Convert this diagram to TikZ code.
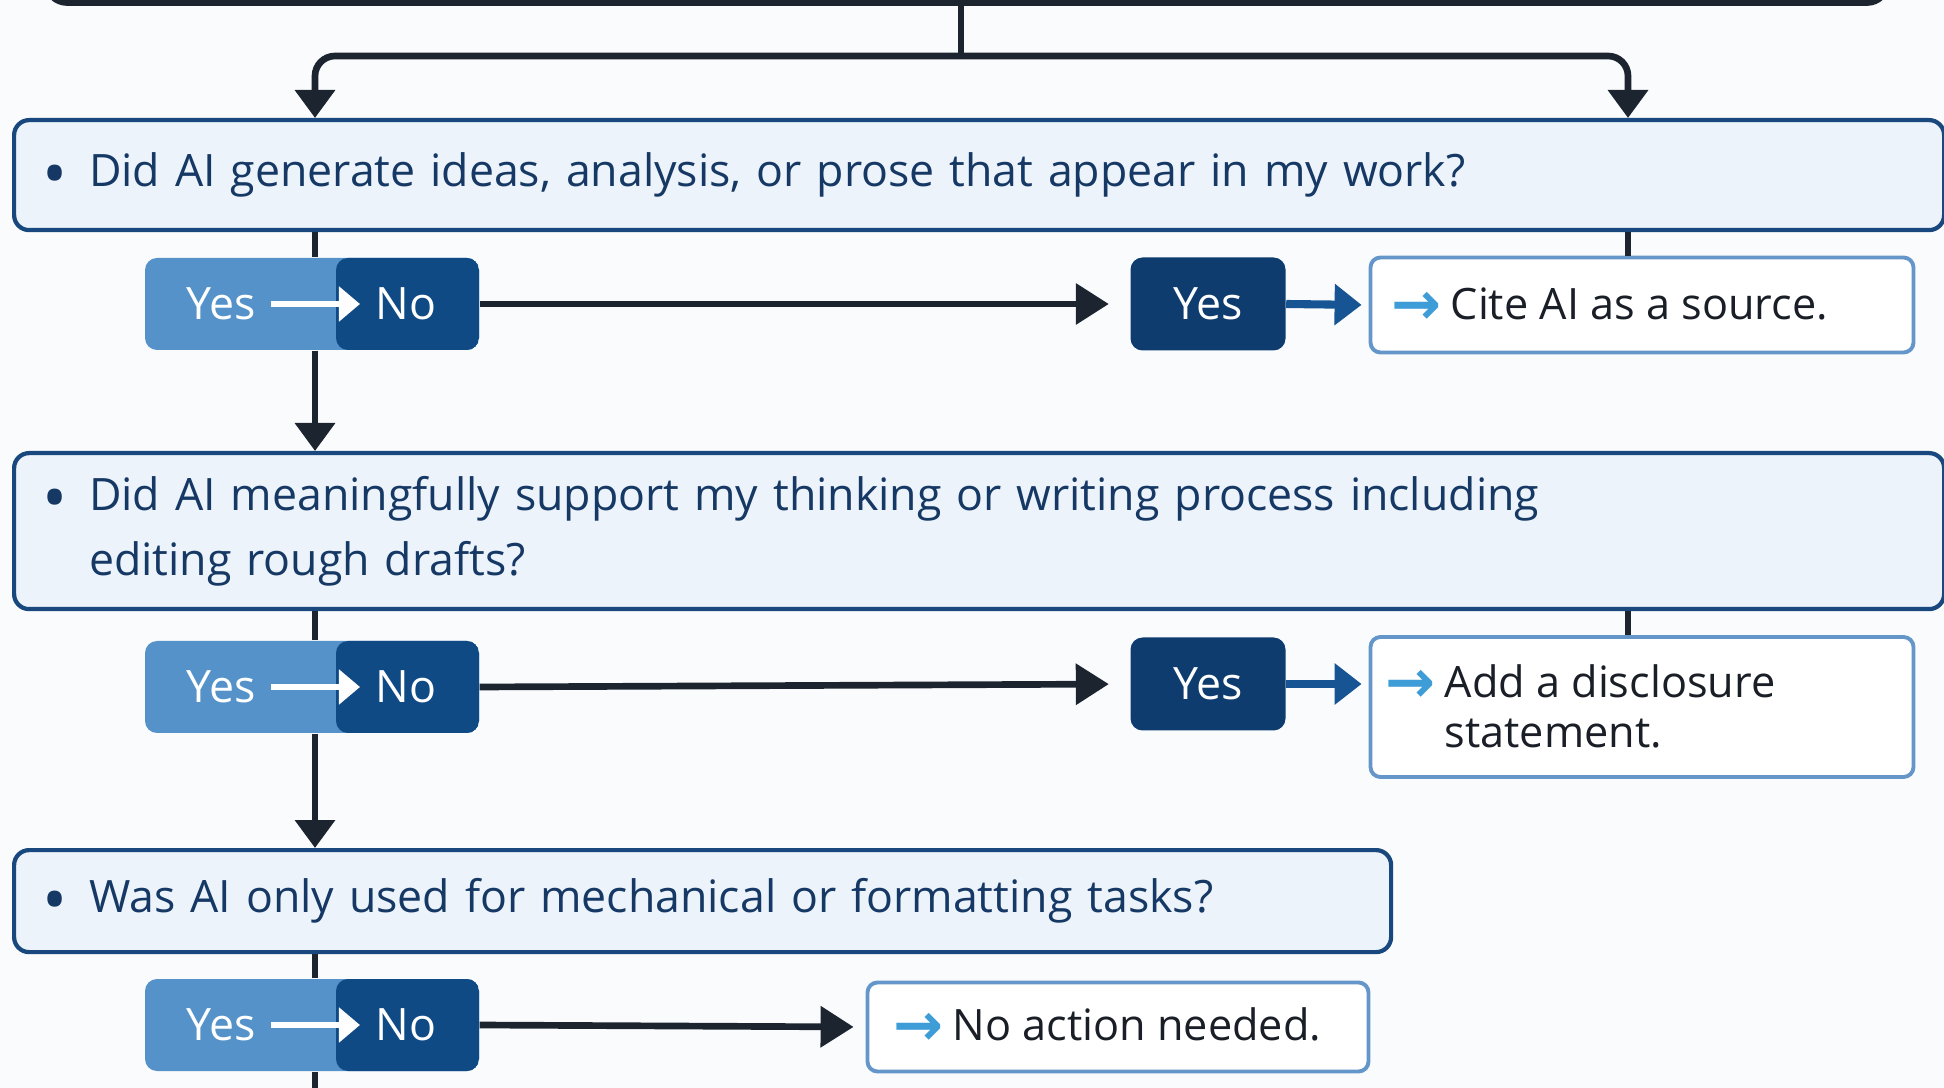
\documentclass[tikz,border=0pt]{standalone}
\usepackage{fontspec}
\setmainfont{Open Sans}
\newfontfamily\arrowfont{DejaVu Sans}
\usetikzlibrary{arrows.meta, positioning, calc}
\definecolor{mybg}{RGB}{250,251,253}
\definecolor{myline}{RGB}{28,36,48}
\definecolor{myqfill}{RGB}{236,243,250}
\definecolor{myqdraw}{RGB}{24,72,125}
\definecolor{myqtext}{RGB}{22,56,100}
\definecolor{myyeslight}{RGB}{84,146,201}
\definecolor{mynodark}{RGB}{16,74,133}
\definecolor{myyesbox}{RGB}{14,60,110}
\definecolor{myresdraw}{RGB}{100,150,202}
\definecolor{mytip}{RGB}{62,156,214}
\definecolor{mylink}{RGB}{22,84,148}
\definecolor{myrestext}{RGB}{26,30,38}
\newcommand{\restip}{\llap{\raisebox{-0.5mm}{\arrowfont\bfseries\fontsize{17}{14}\selectfont\color{mytip}→}\hspace{0.9mm}}}
\newcommand{\qbullet}{\llap{\raisebox{-1.1mm}{\fontsize{19}{18}\selectfont\textbullet}\hspace{2.2mm}}}
\tikzset{
  question/.style = {rectangle, rounded corners=1.5mm, draw=myqdraw, fill=myqfill,
                     line width=1.2pt, anchor=north west, inner xsep=7.5mm, inner ysep=0pt,
                     align=left, text=myqtext},
  yesno/.style = {rectangle, rounded corners=1.2mm, fill=myyeslight, inner sep=0pt,
                  minimum width=33.4mm, minimum height=9.2mm,
                  path picture={\fill[mynodark] ([xshift=2.4mm]path picture bounding box.north)
                                rectangle (path picture bounding box.south east);}},
  yntext/.style = {text=white, inner sep=1.5mm},
  yesbox/.style = {rectangle, rounded corners=1.2mm, fill=myyesbox, text=white,
                   minimum width=15.5mm, minimum height=9.3mm},
  result/.style = {rectangle, rounded corners=1mm, draw=myresdraw, fill=white,
                   line width=1.1pt, minimum width=54.3mm},
  restext/.style = {text=myrestext, inner sep=0pt, anchor=west, align=left,
                    font=\fontsize{12.3}{14.2}\selectfont},
  conn/.style = {draw=myline, line width=1.9pt},
  downtip/.style = {-{Triangle[width=3.9mm, length=2.8mm]}},
  sidetip/.style = {-{Triangle[width=4mm, length=3.3mm]}},
  whitearrow/.style = {draw=white, line width=1.6pt, -{Triangle[width=3.4mm, length=2.1mm]}},
  link/.style = {draw=mylink, line width=2.3pt, -{Triangle[width=4mm, length=2.7mm]}}
}

\begin{document}
\begin{tikzpicture}[
    x=0.1mm, y=-0.1mm,
    every node/.style={font=\fontsize{12.7}{18.4}\selectfont}
    ]
\useasboundingbox (0,0) rectangle (1944,1088);
\fill[mybg] (0,0) rectangle (1944,1088);

\coordinate (lcol) at (315,0);
\coordinate (rcol) at (1628,0);
\coordinate (split) at (961,56);

%box above, cut by the page
\node[rectangle, rounded corners=2mm, draw=myline, fill=mybg, line width=2.2pt,
      minimum width=184mm, minimum height=8.4mm] (topbox) at (967,-40) {};

%Question 1
\node[question, text width=178mm, minimum width=193mm, minimum height=11mm] (q1) at (12,118)
    {\qbullet Did AI generate ideas, analysis, or prose that appear in my work?};
\node[yesno] (yn1) at (312,304) {};
\node[yntext] (yes1) at (221,304) {Yes};
\node[yntext] (no1) at (406,304) {No};
\node[yesbox] (yb1) at (1208,304) {Yes};
\node[result, minimum height=9.5mm] (cite) at (1642,305) {};
\node[restext] (citetext) at (1450,306) {\restip Cite AI as a source.};

%Question 2
\node[question, text width=178mm, minimum width=193mm, minimum height=15.6mm] (q2) at (12,451)
    {\qbullet Did AI meaningfully support my thinking or writing process including\\
     editing rough drafts?};
\node[yesno] (yn2) at (312,687) {};
\node[yntext] (yes2) at (221,687) {Yes};
\node[yntext] (no2) at (406,687) {No};
\node[yesbox] (yb2) at (1208,684) {Yes};
\node[result, minimum height=14mm] (disclose) at (1642,707) {};
\node[restext] (disclosetext) at (1444,706) {\restip Add a disclosure\\statement.};

%Question 3
\node[question, text width=122.7mm, minimum width=137.7mm, minimum height=10.2mm] (q3) at (12,848)
    {\qbullet Was AI only used for mechanical or formatting tasks?};
\node[yesno] (yn3) at (312,1025) {};
\node[yntext] (yes3) at (221,1025) {Yes};
\node[yntext] (no3) at (406,1025) {No};
\node[result, minimum width=50.1mm, minimum height=8.9mm] (none) at (1118,1027) {};
\node[restext] (nonetext) at (952,1027) {\restip No action needed.};
\coordinate (bottomend) at (315,1095);

%connectors from the top
\draw[conn] (split |- topbox.south) -- (split);
\draw[conn, downtip, rounded corners=2mm] (split) -| (q1.north -| lcol);
\draw[conn, downtip, rounded corners=2mm] (split) -| (q1.north -| rcol);

%row 1
\draw[whitearrow] (yes1) -- (no1);
\draw[conn] (q1.south -| lcol) -- (yn1.north -| lcol);
\draw[conn, sidetip, shorten >=2.1mm] (yn1.east) -- (yb1.west);
\draw[link, shorten >=0.7mm] (yb1.east) -- (cite.west);
\draw[conn] (q1.south -| rcol) -- (cite.north -| rcol);
\draw[conn, downtip] (yn1.south -| lcol) -- (q2.north -| lcol);

%row 2
\draw[whitearrow] (yes2) -- (no2);
\draw[conn] (q2.south -| lcol) -- (yn2.north -| lcol);
\draw[conn, sidetip, shorten >=2.1mm] (yn2.east) -- (yb2.west);
\draw[link, shorten >=0.7mm] (yb2.east) -- (yb2.east -| disclose.west);
\draw[conn] (q2.south -| rcol) -- (disclose.north -| rcol);
\draw[conn, downtip] (yn2.south -| lcol) -- (q3.north -| lcol);

%row 3
\draw[whitearrow] (yes3) -- (no3);
\draw[conn] (q3.south -| lcol) -- (yn3.north -| lcol);
\draw[conn, sidetip, shorten >=1.2mm] (yn3.east) -- (none.west);
\draw[conn] (yn3.south -| lcol) -- (bottomend);
\end{tikzpicture}
\end{document}
